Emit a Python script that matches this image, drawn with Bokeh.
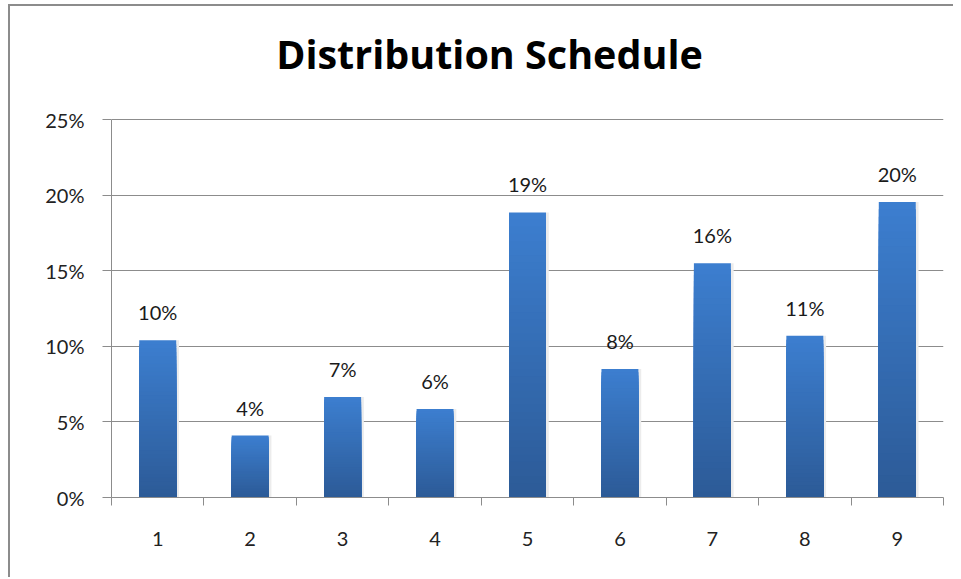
from bokeh.plotting import figure
from bokeh.models import FixedTicker, LabelSet, Label, ColumnDataSource, Range1d, NumeralTickFormatter
from bokeh.core.properties import value
from bokeh.embed import file_html
from bokeh.resources import INLINE

title_text = "Distribution Schedule"
categories = [1, 2, 3, 4, 5, 6, 7, 8, 9]
values = [10.4, 4.1, 6.65, 5.85, 18.85, 8.5, 15.5, 10.7, 19.55]
value_labels = ["10%", "4%", "7%", "6%", "19%", "8%", "16%", "11%", "20%"]
y_ticks = [0, 5, 10, 15, 20, 25]

FONT = "Lato"
TOP = (0x3c, 0x7e, 0xcf)
BOT = (0x2c, 0x5a, 0x96)
N = 40
W, H = 945, 573
BOTTOM_BORDER = 82
PLOT_H = 378               # pixel height of the 0..25% band
FRAME_H = H - BOTTOM_BORDER
y_max = y_ticks[-1] * FRAME_H / PLOT_H   # frame extends up to hold the title

p = figure(width=W, height=H, output_backend="svg", toolbar_location=None,
           x_range=Range1d(0.5, 9.5), y_range=Range1d(0, y_max),
           min_border_left=101, min_border_right=12, min_border_top=0,
           min_border_bottom=BOTTOM_BORDER)
p.styles = {"border-left": "2px solid #8c8c8c", "border-top": "2px solid #8c8c8c",
            "margin-left": "8px", "margin-top": "4px"}
p.outline_line_color = None
p.background_fill_color = "white"
p.border_fill_color = "white"

title = Label(x=378, y=FRAME_H - 47, x_units="screen", y_units="screen", text=title_text,
              text_align="center", text_baseline="alphabetic",
              text_font="Open Sans", text_font_size="39.5px", text_font_style="bold",
              text_color="black")
p.add_layout(title)

# soft shadow
p.quad(left=[c + 0.2 for c in categories], right=[c + 0.23 for c in categories],
       bottom=[0] * 9, top=values, fill_color="#ececec", line_color=None)

# gradient bars: nested overlapping bars, each shorter one darker
w = 0.2
for i in range(N):
    f = 1 - i / N
    col = tuple(int(round(BOT[k] + (TOP[k] - BOT[k]) * f)) for k in range(3))
    p.vbar(x=categories, width=2 * w, bottom=0, top=[v * (N - i) / N for v in values],
           fill_color="#%02x%02x%02x" % col, line_color=None)

src = ColumnDataSource(dict(x=categories, y=values, t=value_labels))
labels = LabelSet(x="x", y="y", text="t", source=src, text_align="center",
                  text_baseline="bottom", y_offset=16, text_font=value(FONT),
                  text_font_size=value("20px"), text_color="#1a1a1a")
p.add_layout(labels)

# axes
p.xgrid.grid_line_color = None
p.ygrid.grid_line_color = "#8c8c8c"
p.ygrid.grid_line_width = 1
p.yaxis.ticker = FixedTicker(ticks=y_ticks)
p.yaxis.bounds = (0, y_ticks[-1])
p.yaxis.formatter = NumeralTickFormatter(format="0")
p.yaxis.major_label_overrides = {t: "%d%%" % t for t in y_ticks}
p.yaxis.axis_line_color = "#8c8c8c"
p.yaxis.major_tick_line_color = "#8c8c8c"
p.yaxis.major_tick_out = 9
p.yaxis.major_tick_in = 0
p.yaxis.minor_tick_line_color = None
p.yaxis.major_label_standoff = 18
p.yaxis.major_label_text_font = FONT
p.yaxis.major_label_text_font_size = "20px"
p.yaxis.major_label_text_color = "#222222"

p.xaxis.ticker = FixedTicker(ticks=categories, minor_ticks=[c - 0.5 for c in categories] + [9.5])
p.xaxis.axis_line_color = "#8c8c8c"
p.xaxis.major_tick_line_color = None
p.xaxis.minor_tick_line_color = "#8c8c8c"
p.xaxis.minor_tick_out = 8
p.xaxis.minor_tick_in = 0
p.xaxis.major_tick_out = 0
p.xaxis.major_label_standoff = 26
p.xaxis.major_label_text_font = FONT
p.xaxis.major_label_text_font_size = "20px"
p.xaxis.major_label_text_color = "#222222"

open("out.html", "w").write(file_html(p, INLINE))
